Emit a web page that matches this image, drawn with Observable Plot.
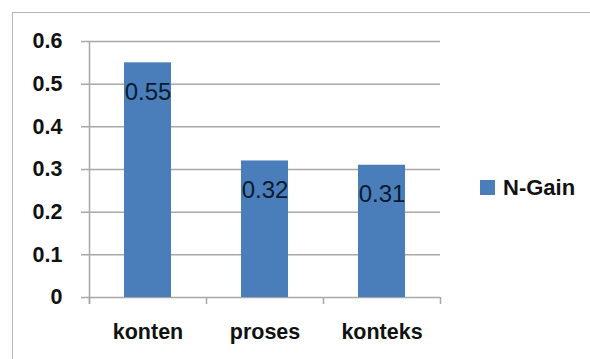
<!DOCTYPE html>
<html>
<head>
<meta charset="utf-8">
<script src="https://cdn.jsdelivr.net/npm/d3@7"></script>
<script src="https://cdn.jsdelivr.net/npm/@observablehq/plot@0.6"></script>
<style>
  html, body { margin: 0; padding: 0; background: #fff; }
  #chart { position: relative; width: 590px; height: 359px; overflow: hidden; font-family: "Liberation Sans", Arial, sans-serif; }
  #chart svg.main { position: absolute; left: 0; top: 0; }
  #frame { position: absolute; left: 12px; top: 12px; right: -4px; bottom: -4px; border-left: 1.5px solid #b4b4b4; border-top: 1.5px solid #b4b4b4; }
  #legend { position: absolute; left: 480px; top: 171px; width: 120px; white-space: nowrap; margin: 0 !important; line-height: 24px; }
  #legend span { white-space: nowrap; margin: 0 !important; }
  #legend svg { margin-right: 8px !important; }
</style>
</head>
<body>
<div id="chart"><div id="frame"></div></div>
<script>
// N-Gain per aspect
const categories = ["konten", "proses", "konteks"];
const values = [0.55, 0.32, 0.31];
const seriesName = "N-Gain";
const yTicks = [0, 0.1, 0.2, 0.3, 0.4, 0.5, 0.6];
const yTickLabels = ["0", "0.1", "0.2", "0.3", "0.4", "0.5", "0.6"];

const barColor = "#4a7ebb";
const gridColor = "#a8a8a8";

const width = 590, height = 359;
const margin = {top: 41, right: 150, bottom: 62, left: 89};
const step = (width - margin.left - margin.right) / categories.length;

const rows = categories.map((c, i) => ({category: c, value: values[i]}));

const plot = Plot.plot({
  width, height,
  marginTop: margin.top, marginRight: margin.right,
  marginBottom: margin.bottom, marginLeft: margin.left,
  style: {fontFamily: "'Liberation Sans', Arial, sans-serif", fontSize: "21.5px", fontWeight: "bold", color: "#111", background: "transparent", overflow: "visible"},
  x: {domain: categories, paddingInner: 0.6, paddingOuter: 0.3, tickSize: 0, tickPadding: 26, label: null},
  y: {domain: [0, 0.6], ticks: yTicks, tickFormat: d => yTickLabels[yTicks.indexOf(d)], tickSize: 0, tickPadding: 27, label: null},
  color: {domain: [seriesName], range: [barColor]},
  marks: [
    // horizontal gridlines, reaching left past the axis as tick marks
    Plot.ruleY(yTicks, {stroke: gridColor, strokeWidth: 1.5, insetLeft: -8}),
    // vertical axis line
    Plot.ruleX([categories[0]], {x: d => d, dx: -step / 2, y1: 0.6, y2: 0, insetBottom: -7, stroke: gridColor, strokeWidth: 1.5}),
    // category boundary ticks below the baseline
    Plot.ruleX(categories, {x: d => d, dx: -step / 2, y1: 0, y2: 0, insetBottom: -7, stroke: gridColor, strokeWidth: 1.5}),
    Plot.ruleX([categories[categories.length - 1]], {x: d => d, dx: step / 2, y1: 0, y2: 0, insetBottom: -7, stroke: gridColor, strokeWidth: 1.5}),
    Plot.barY(rows, {x: "category", y: "value", fill: () => seriesName}),
    Plot.text(rows, {x: "category", y: "value", text: d => String(d.value), dy: 29, fontSize: 24, fontWeight: "normal", fill: "#0c1a2e"})
  ]
});
plot.classList.add("main");
document.getElementById("chart").appendChild(plot);

const legend = Plot.legend({
  color: {domain: [seriesName], range: [barColor]},
  legend: "swatches",
  swatchSize: 15,
  style: {fontFamily: "'Liberation Sans', Arial, sans-serif", fontSize: "22px", fontWeight: "bold", color: "#111", background: "transparent"}
});
legend.id = "legend";
document.getElementById("chart").appendChild(legend);
</script>
</body>
</html>
